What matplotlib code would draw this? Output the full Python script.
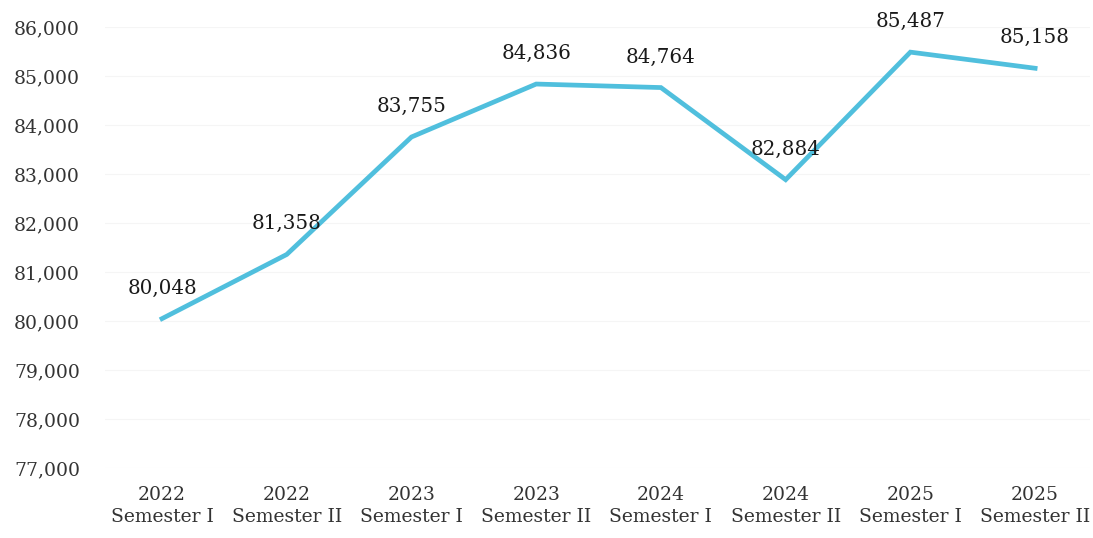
import matplotlib
matplotlib.use("Agg")
import matplotlib.pyplot as plt
from matplotlib.ticker import FuncFormatter

categories = ["2022\nSemester I", "2022\nSemester II", "2023\nSemester I", "2023\nSemester II",
              "2024\nSemester I", "2024\nSemester II", "2025\nSemester I", "2025\nSemester II"]
values = [80048, 81358, 83755, 84836, 84764, 82884, 85487, 85158]
yticks = [77000, 78000, 79000, 80000, 81000, 82000, 83000, 84000, 85000, 86000]

plt.rcParams['font.family'] = ['DejaVu Serif']
W, H = 1093, 538
fig = plt.figure(figsize=(W/100, H/100), dpi=100)
left, right, bottom, top = 105, 1090, 468, 27
ax = fig.add_axes([left/W, (H-bottom)/H, (right-left)/W, (bottom-top)/H])

x = list(range(len(values)))
ax.plot(x, values, color="#50BFDD", lw=3.4, solid_joinstyle="miter", zorder=3)
for xi, v in zip(x, values):
    ax.annotate(f"{v:,}", (xi, v), xytext=(0, 22), textcoords="offset points",
                ha="center", va="center", fontsize=14.3, color="#1a1a1a", zorder=4)

ax.set_xlim(-0.457, 7.44)
ax.set_ylim(77000, 86000)
ax.set_yticks(yticks)
ax.yaxis.set_major_formatter(FuncFormatter(lambda v, p: f"{int(v):,}"))
ax.set_xticks(x)
ax.set_xticklabels(categories, linespacing=1.25)
ax.tick_params(axis="both", length=0, labelsize=13.5, labelcolor="#333333")
ax.tick_params(axis="x", pad=13)
ax.tick_params(axis="y", pad=18)
ax.grid(axis="y", color="#f5f5f5", lw=0.8)
ax.set_axisbelow(True)
for s in ax.spines.values():
    s.set_visible(False)

fig.savefig("out.png", dpi=100)
